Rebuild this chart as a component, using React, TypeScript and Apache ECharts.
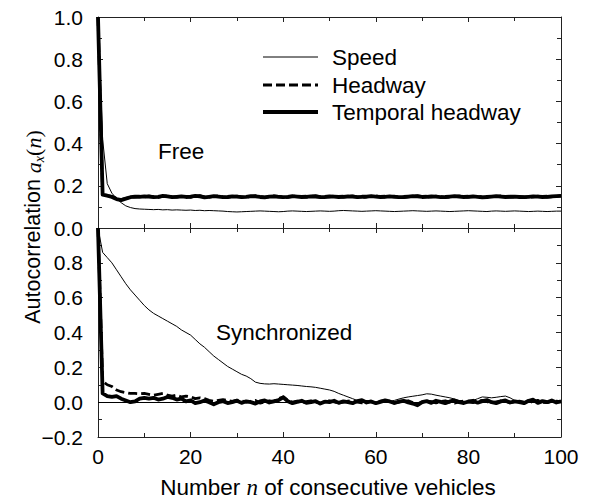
import React, { useEffect, useRef } from "react";
import * as echarts from "echarts";

// lag n (consecutive vehicles)
const lags: number[] = Array.from({ length: 101 }, (_, i) => i);

// Free traffic
const freeSpeed = [1.0, 0.42, 0.21, 0.165, 0.14, 0.12, 0.105, 0.097, 0.092, 0.09,
  0.089, 0.088, 0.087, 0.088, 0.086, 0.087, 0.085, 0.086, 0.085, 0.084,
  0.085, 0.083, 0.084, 0.082, 0.083, 0.082, 0.081, 0.08, 0.078, 0.077,
  0.076, 0.077, 0.078, 0.079, 0.08, 0.081, 0.08, 0.079, 0.078, 0.077,
  0.078, 0.08, 0.081, 0.08, 0.079, 0.078, 0.079, 0.08, 0.081, 0.08,
  0.079, 0.08, 0.082, 0.083, 0.082, 0.081, 0.08, 0.079, 0.08, 0.081,
  0.082, 0.081, 0.08, 0.079, 0.078, 0.079, 0.08, 0.081, 0.082, 0.081,
  0.08, 0.079, 0.08, 0.081, 0.08, 0.079, 0.078, 0.079, 0.08, 0.081,
  0.082, 0.081, 0.08, 0.079, 0.078, 0.08, 0.081, 0.08, 0.079, 0.08,
  0.081, 0.08, 0.079, 0.078, 0.079, 0.08, 0.079, 0.078, 0.079, 0.08, 0.08];

const freeHeadway = [1.0, 0.16, 0.155, 0.15, 0.14, 0.135, 0.14, 0.145, 0.148, 0.15,
  0.147, 0.152, 0.149, 0.145, 0.15, 0.153, 0.148, 0.146, 0.151, 0.149,
  0.145, 0.15, 0.154, 0.148, 0.146, 0.15, 0.152, 0.147, 0.144, 0.149,
  0.151, 0.148, 0.145, 0.15, 0.153, 0.149, 0.146, 0.148, 0.152, 0.15,
  0.147, 0.145, 0.149, 0.152, 0.148, 0.146, 0.15, 0.153, 0.149, 0.145,
  0.148, 0.151, 0.15, 0.146, 0.149, 0.152, 0.148, 0.145, 0.147, 0.15,
  0.152, 0.148, 0.146, 0.149, 0.151, 0.147, 0.145, 0.148, 0.15, 0.153,
  0.149, 0.146, 0.148, 0.151, 0.149, 0.145, 0.147, 0.15, 0.152, 0.148,
  0.146, 0.149, 0.151, 0.147, 0.144, 0.148, 0.15, 0.152, 0.149, 0.146,
  0.148, 0.15, 0.147, 0.145, 0.148, 0.151, 0.149, 0.146, 0.148, 0.15, 0.152];

const freeTemporal = [1.0, 0.158, 0.153, 0.147, 0.137, 0.132, 0.139, 0.146, 0.149, 0.148,
  0.15, 0.149, 0.146, 0.148, 0.152, 0.15, 0.146, 0.148, 0.15, 0.147,
  0.149, 0.152, 0.15, 0.145, 0.148, 0.151, 0.149, 0.146, 0.147, 0.15,
  0.149, 0.146, 0.148, 0.151, 0.15, 0.147, 0.145, 0.149, 0.15, 0.148,
  0.146, 0.148, 0.151, 0.149, 0.147, 0.148, 0.15, 0.149, 0.146, 0.147,
  0.15, 0.149, 0.147, 0.148, 0.15, 0.149, 0.146, 0.148, 0.149, 0.151,
  0.149, 0.147, 0.148, 0.15, 0.148, 0.146, 0.147, 0.149, 0.151, 0.15,
  0.147, 0.148, 0.15, 0.149, 0.146, 0.147, 0.149, 0.151, 0.149, 0.147,
  0.148, 0.15, 0.148, 0.145, 0.147, 0.149, 0.151, 0.149, 0.147, 0.148,
  0.149, 0.147, 0.146, 0.148, 0.15, 0.149, 0.147, 0.148, 0.15, 0.151, 0.152];

// Synchronized traffic
const syncSpeed = [1.0, 0.86, 0.83, 0.8, 0.76, 0.72, 0.68, 0.645, 0.615, 0.585,
  0.555, 0.53, 0.51, 0.495, 0.48, 0.465, 0.45, 0.435, 0.415, 0.4,
  0.385, 0.36, 0.335, 0.315, 0.29, 0.265, 0.245, 0.225, 0.205, 0.19,
  0.175, 0.16, 0.15, 0.135, 0.115, 0.108, 0.105, 0.104, 0.106, 0.104,
  0.102, 0.1, 0.098, 0.096, 0.093, 0.09, 0.088, 0.085, 0.08, 0.075,
  0.07, 0.062, 0.05, 0.04, 0.03, 0.02, 0.01, 0.003, 0.0, -0.002,
  0.0, 0.003, 0.002, 0.005, 0.01, 0.018, 0.025, 0.03, 0.034, 0.038,
  0.042, 0.048, 0.046, 0.04, 0.035, 0.03, 0.025, 0.018, 0.01, 0.005,
  0.002, 0.01, 0.02, 0.03, 0.028, 0.025, 0.028, 0.032, 0.035, 0.025,
  0.01, 0.005, 0.003, 0.005, 0.004, 0.002, 0.005, 0.006, 0.004, 0.003, 0.005];

const syncHeadway = [1.0, 0.12, 0.1, 0.09, 0.07, 0.06, 0.055, 0.05, 0.05, 0.048,
  0.05, 0.045, 0.04, 0.045, 0.05, 0.04, 0.035, 0.04, 0.03, 0.035,
  0.03, 0.02, 0.025, 0.02, 0.01, 0.005, 0.01, 0.015, 0.01, 0.005,
  0.012, 0.008, 0.0, 0.005, 0.01, -0.005, 0.0, 0.008, 0.005, 0.02,
  0.03, 0.01, 0.0, 0.006, -0.004, 0.003, 0.008, 0.0, -0.006, 0.004,
  0.008, 0.002, -0.005, 0.0, 0.006, 0.01, 0.0, -0.004, 0.005, 0.002,
  -0.003, 0.006, 0.01, 0.002, -0.005, 0.0, 0.005, 0.008, -0.002, -0.01,
  0.0, 0.006, 0.003, -0.004, 0.004, 0.008, 0.0, -0.005, 0.002, 0.006,
  0.0, -0.003, 0.005, 0.01, 0.003, -0.004, 0.002, 0.008, 0.004, -0.002,
  0.003, 0.006, 0.0, -0.004, 0.005, 0.01, 0.0, -0.003, 0.004, 0.006, 0.003];

const syncTemporal = [1.0, 0.05, 0.035, 0.03, 0.035, 0.02, 0.01, 0.0, 0.005, 0.02,
  0.025, 0.02, 0.025, 0.015, 0.02, 0.03, 0.025, 0.015, 0.02, 0.005,
  0.01, -0.005, 0.0, 0.01, 0.0, -0.012, 0.0, 0.006, -0.005, 0.0,
  0.008, -0.004, 0.005, 0.0, -0.008, 0.004, 0.01, -0.002, 0.005, 0.012,
  0.028, 0.005, -0.006, 0.002, 0.008, -0.004, 0.0, 0.006, -0.008, 0.003,
  0.0, 0.008, -0.004, 0.005, 0.0, -0.006, 0.006, 0.012, -0.002, 0.004,
  -0.006, 0.002, 0.01, 0.004, -0.005, 0.003, 0.008, -0.002, -0.008, -0.018,
  0.0, 0.006, -0.004, 0.008, 0.002, -0.006, 0.004, 0.01, 0.0, -0.005,
  0.004, 0.008, -0.003, 0.006, 0.012, 0.0, -0.006, 0.004, 0.01, -0.002,
  0.005, 0.0, -0.006, 0.008, 0.014, -0.004, 0.006, 0.0, 0.01, -0.002, 0.004];

const seriesNames = ["Speed", "Headway", "Temporal headway"];
const panelLabels = ["Free", "Synchronized"];

const SANS = "'Liberation Sans', Arial, Helvetica, sans-serif";
const SERIF = "'Liberation Serif', 'Times New Roman', serif";
const AX = "#222";
const TICK_FS = 21;
const TEXT_FS = 22.5;

const pairs = (vals: number[]) => vals.map((v, i) => [lags[i], v]);

const fmt = (v: number) => {
  if (Math.abs(v) < 1e-9) return "0.0";
  const s = v.toFixed(1);
  return s.startsWith("-") ? "\u2212" + s.slice(1) : s;
};

function xAx(gridIndex: number, position: string, showLabels: boolean) {
  return {
    type: "value",
    gridIndex,
    position,
    min: 0,
    max: 100,
    interval: 20,
    axisLine: { show: true, onZero: false, lineStyle: { color: AX, width: 1 } },
    axisTick: { show: true, inside: true, length: 5, lineStyle: { color: AX } },
    minorTick: { show: true, splitNumber: 2, length: 4, lineStyle: { color: AX } },
    axisLabel: { show: showLabels, margin: 9, color: "#000", fontSize: TICK_FS, fontFamily: SANS },
    splitLine: { show: false },
    minorSplitLine: { show: false },
  };
}

function yAx(gridIndex: number, position: string, min: number, max: number, showLabels: boolean, hideTop: boolean) {
  return {
    type: "value",
    gridIndex,
    position,
    min,
    max,
    interval: 0.2,
    axisLine: { show: true, onZero: false, lineStyle: { color: AX, width: 1 } },
    axisTick: { show: true, inside: true, length: 5, lineStyle: { color: AX } },
    minorTick: { show: true, splitNumber: 2, length: 4, lineStyle: { color: AX } },
    axisLabel: {
      show: showLabels,
      margin: 15,
      color: "#000",
      fontSize: TICK_FS,
      fontFamily: SANS,
      formatter: (v: number) => (hideTop && v > max - 1e-6 ? "" : fmt(v)),
    },
    splitLine: { show: false },
    minorSplitLine: { show: false },
  };
}

function lineSeries(name: string, data: number[], xi: number, yi: number, kind: number) {
  const styles = [
    { color: "#000", width: 1, type: "solid" },
    { color: "#000", width: 2.8, type: [9, 4] },
    { color: "#000", width: 3.8, type: "solid" },
  ];
  return {
    type: "line",
    name,
    xAxisIndex: xi,
    yAxisIndex: yi,
    data: pairs(data),
    symbol: "none",
    showSymbol: false,
    lineStyle: { ...styles[kind], join: "round", cap: "butt" },
    z: 3 + kind,
  };
}

export default function App() {
  const ref = useRef<HTMLDivElement>(null);
  useEffect(() => {
    if (!ref.current) return;
    const chart = echarts.init(ref.current, undefined, { renderer: "svg" });
    const legendY = [57, 85, 112];
    const legendStyles = [
      { lineWidth: 1 },
      { lineWidth: 2.8, lineDash: [9, 4] },
      { lineWidth: 3.8 },
    ];
    const option: any = {
      animation: false,
      backgroundColor: "#fff",
      grid: [
        { left: 98, top: 17, width: 463, height: 211 },
        { left: 98, top: 228, width: 463, height: 209 },
      ],
      xAxis: [
        xAx(0, "bottom", false),
        xAx(0, "top", false),
        xAx(1, "bottom", true),
        xAx(1, "top", false),
      ],
      yAxis: [
        yAx(0, "left", 0, 1, true, false),
        yAx(0, "right", 0, 1, false, false),
        yAx(1, "left", -0.2, 1, true, true),
        yAx(1, "right", -0.2, 1, false, false),
      ],
      series: [
        lineSeries(seriesNames[0], freeSpeed, 0, 0, 0),
        lineSeries(seriesNames[1], freeHeadway, 0, 0, 1),
        lineSeries(seriesNames[2], freeTemporal, 0, 0, 2),
        {
          ...lineSeries(seriesNames[0], syncSpeed, 2, 2, 0),
          markLine: {
            silent: true,
            symbol: ["none", "none"],
            label: { show: false },
            lineStyle: { color: "#000", width: 1, type: "solid" },
            data: [{ yAxis: 0 }],
          },
        },
        lineSeries(seriesNames[1], syncHeadway, 2, 2, 1),
        lineSeries(seriesNames[2], syncTemporal, 2, 2, 2),
      ],
      graphic: [
        ...legendY.map((y, i) => ({
          type: "line",
          shape: { x1: 263, y1: y, x2: 318, y2: y },
          style: { stroke: "#000", ...legendStyles[i] },
        })),
        ...legendY.map((y, i) => ({
          type: "text",
          x: 332,
          y,
          style: { text: seriesNames[i], fontSize: TEXT_FS, fontFamily: SANS, fill: "#000", align: "left", verticalAlign: "middle" },
        })),
        {
          type: "text",
          x: 158,
          y: 151,
          style: { text: panelLabels[0], fontSize: TEXT_FS, fontFamily: SANS, fill: "#000", align: "left", verticalAlign: "middle" },
        },
        {
          type: "text",
          x: 216,
          y: 332,
          style: { text: panelLabels[1], fontSize: TEXT_FS, fontFamily: SANS, fill: "#000", align: "left", verticalAlign: "middle" },
        },
        {
          type: "text",
          x: 328,
          y: 487,
          style: {
            text: "{a|Number }{m|n}{a| of consecutive vehicles}",
            align: "center",
            verticalAlign: "middle",
            fill: "#000",
            rich: {
              a: { fontSize: TEXT_FS, fontFamily: SANS, fill: "#000", lineHeight: 26 },
              m: { fontSize: 23, fontFamily: SERIF, fontStyle: "italic", fill: "#000", lineHeight: 26 },
            },
          },
        },
        {
          type: "text",
          x: 33,
          y: 227,
          rotation: Math.PI / 2,
          style: {
            text: "{a|Autocorrelation }{m|a}{s|x}{p|(}{m|n}{p|)}",
            align: "center",
            verticalAlign: "middle",
            fill: "#000",
            rich: {
              a: { fontSize: 21.5, fontFamily: SANS, fill: "#000", lineHeight: 26 },
              m: { fontSize: 22, fontFamily: SERIF, fontStyle: "italic", fill: "#000", lineHeight: 26 },
              s: { fontSize: 14, fontFamily: SERIF, fontStyle: "italic", fill: "#000", lineHeight: 14, verticalAlign: "bottom" },
              p: { fontSize: 22, fontFamily: SERIF, fill: "#000", lineHeight: 26 },
            },
          },
        },
      ],
    };
    chart.setOption(option);
    return () => chart.dispose();
  }, []);
  return (
    <div
      ref={ref}
      style={{ position: "fixed", left: 0, top: 0, width: 589, height: 501, background: "#fff" }}
    />
  );
}
